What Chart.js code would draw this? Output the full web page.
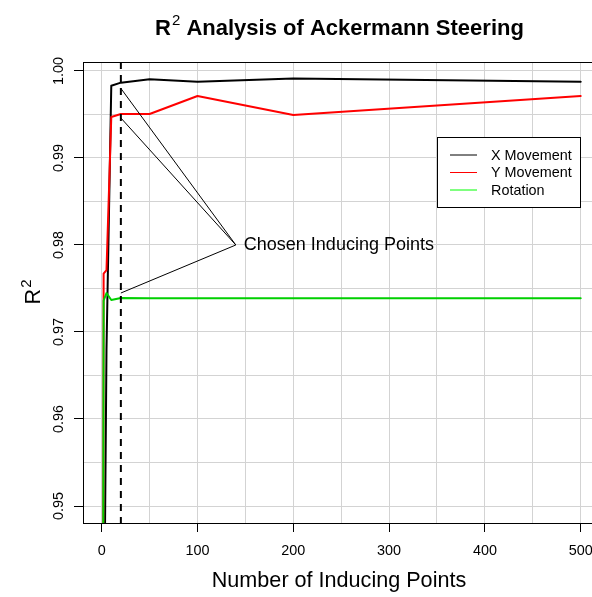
<!DOCTYPE html>
<html><head><meta charset="utf-8">
<script src="https://cdn.jsdelivr.net/npm/chart.js@4"></script>
<style>html,body{margin:0;padding:0;background:#fff}#wrap{width:592px;height:597px}</style>
</head><body><div id="wrap"><canvas id="c" width="592" height="597"></canvas></div>
<script>
// ---- data ----
const inducingPoints = [1, 2, 5, 10, 20, 50, 100, 200, 500];
const xMovement = [0.88, 0.928, 0.968, 0.9983, 0.99866, 0.99905, 0.99877, 0.99914, 0.99877];
const yMovement = [0.90, 0.9767, 0.9771, 0.99471, 0.99506, 0.99506, 0.99713, 0.99494, 0.99713];
const rotation  = [0.90, 0.9736, 0.97448, 0.97368, 0.97391, 0.97387, 0.97387, 0.97387, 0.97387];
const seriesNames = ['X Movement', 'Y Movement', 'Rotation'];
const seriesColors = ['#000000', '#ff0000', '#00d000'];
const legendColors = ['#000000', '#ff0000', '#00ff00'];
const xTickLabels = [0, 100, 200, 300, 400, 500];
const xGridValues = [0, 50, 100, 150, 200, 250, 300, 350, 400, 450, 500];
const yTickLabels = [0.95, 0.96, 0.97, 0.98, 0.99, 1.00];
const yGridValues = [0.95, 0.955, 0.96, 0.965, 0.97, 0.975, 0.98, 0.985, 0.99, 0.995, 1.00];
const chosenPoints = 20;
const annotationAnchor = [140, 0.98];
const annotationTargets = [0.998, 0.9946, 0.97448];
const annotationText = 'Chosen Inducing Points';
const titleText = ['R', '2', ' Analysis of Ackermann Steering'];
const xTitle = 'Number of Inducing Points';
const yTitle = ['R', '2'];

const FONT = "'Liberation Sans', Arial, Helvetica, sans-serif";

function mkDs(label, vals, color, order) {
  return {
    label, order,
    data: inducingPoints.map((x, i) => ({x, y: vals[i]})),
    borderColor: color, borderWidth: 2, pointRadius: 0, fill: false, tension: 0,
    borderJoinStyle: 'round', borderCapStyle: 'round'
  };
}

const isMajorX = v => xTickLabels.includes(v);
const isMajorY = v => yTickLabels.some(t => Math.abs(t - v) < 1e-9);

const drawPlugin = {
  id: 'rdraw',
  afterDatasetsDraw(chart) {
    const {ctx, chartArea: a, scales: {x, y}} = chart;
    ctx.save();
    // top border
    ctx.strokeStyle = '#000'; ctx.lineWidth = 1;
    ctx.beginPath(); ctx.moveTo(a.left, Math.round(a.top) + 0.5); ctx.lineTo(a.right, Math.round(a.top) + 0.5); ctx.stroke();
    // dashed vertical line
    ctx.save();
    ctx.beginPath(); ctx.rect(a.left, a.top, a.right - a.left, a.bottom - a.top); ctx.clip();
    const dx = x.getPixelForValue(chosenPoints);
    ctx.setLineDash([7, 6]); ctx.lineWidth = 2; ctx.strokeStyle = '#000';
    ctx.beginPath(); ctx.moveTo(dx, a.top); ctx.lineTo(dx, a.bottom); ctx.stroke();
    ctx.setLineDash([]);
    // annotation segments
    const ax = x.getPixelForValue(annotationAnchor[0]), ay = y.getPixelForValue(annotationAnchor[1]);
    ctx.lineWidth = 1;
    annotationTargets.forEach(t => {
      ctx.beginPath(); ctx.moveTo(ax, ay); ctx.lineTo(dx, y.getPixelForValue(t)); ctx.stroke();
    });
    ctx.restore();
    ctx.fillStyle = '#000';
    ctx.font = '18px ' + FONT; ctx.textAlign = 'left'; ctx.textBaseline = 'middle';
    ctx.fillText(annotationText, ax + 8, ay);
    // legend
    const lx = 437.5, ly = 137.5, lw = 143, lh = 70;
    ctx.fillStyle = '#fff'; ctx.fillRect(lx, ly, lw, lh);
    ctx.strokeStyle = '#000'; ctx.lineWidth = 1; ctx.strokeRect(lx, ly, lw, lh);
    ctx.font = '14.4px ' + FONT; ctx.textBaseline = 'middle';
    seriesNames.forEach((n, i) => {
      const yy = 155 + i * 17.5;
      ctx.strokeStyle = legendColors[i]; ctx.lineWidth = 1;
      ctx.beginPath(); ctx.moveTo(450, yy); ctx.lineTo(477, yy); ctx.stroke();
      ctx.fillStyle = '#000'; ctx.fillText(n, 491, yy + 1);
    });
    ctx.restore();
  },
  afterDraw(chart) {
    const {ctx, chartArea: a, scales: {x, y}} = chart;
    ctx.save();
    ctx.fillStyle = '#000';
    // x tick labels
    ctx.font = '14.4px ' + FONT; ctx.textAlign = 'center'; ctx.textBaseline = 'alphabetic';
    xTickLabels.forEach(v => ctx.fillText(String(v), x.getPixelForValue(v), 555));
    // y tick labels (rotated)
    yTickLabels.forEach(v => {
      ctx.save();
      ctx.translate(63, y.getPixelForValue(v)); ctx.rotate(-Math.PI / 2);
      ctx.fillText(v.toFixed(2), 0, 0);
      ctx.restore();
    });
    // x title
    ctx.font = '21.6px ' + FONT;
    ctx.fillText(xTitle, 339, 587);
    // y title rotated with superscript
    ctx.save();
    ctx.translate(40, (a.top + a.bottom) / 2); ctx.rotate(-Math.PI / 2);
    ctx.font = '21.6px ' + FONT;
    const wR = ctx.measureText(yTitle[0]).width;
    ctx.font = '15px ' + FONT;
    const w2 = ctx.measureText(yTitle[1]).width;
    const st = -(wR + w2) / 2;
    ctx.textAlign = 'left';
    ctx.font = '21.6px ' + FONT; ctx.fillText(yTitle[0], st, 0);
    ctx.font = '15px ' + FONT; ctx.fillText(yTitle[1], st + wR + 1, -9);
    ctx.restore();
    // main title
    ctx.textAlign = 'left';
    ctx.font = 'bold 22px ' + FONT; const t0 = ctx.measureText(titleText[0]).width, t2 = ctx.measureText(titleText[2]).width;
    ctx.font = '15px ' + FONT; const t1 = ctx.measureText(titleText[1]).width;
    let tx = 339.5 - (t0 + t1 + t2 + 1) / 2;
    ctx.font = 'bold 22px ' + FONT; ctx.fillText(titleText[0], tx, 35);
    ctx.font = '15px ' + FONT; ctx.fillText(titleText[1], tx + t0 + 1, 25);
    ctx.font = 'bold 22px ' + FONT; ctx.fillText(titleText[2], tx + t0 + t1 + 1, 35);
    ctx.restore();
  }
};

new Chart(document.getElementById('c'), {
  type: 'line',
  data: {datasets: [
    mkDs(seriesNames[0], xMovement, seriesColors[0], 3),
    mkDs(seriesNames[1], yMovement, seriesColors[1], 2),
    mkDs(seriesNames[2], rotation, seriesColors[2], 1)
  ]},
  options: {
    responsive: false, animation: false, devicePixelRatio: 1,
    layout: {padding: {top: 62, right: 0, left: 0, bottom: 0}},
    plugins: {legend: {display: false}, title: {display: false}, tooltip: {enabled: false}},
    scales: {
      x: {
        type: 'linear', min: -19.52, max: 511.8,
        afterBuildTicks: s => { s.ticks = xGridValues.map(v => ({value: v})); },
        afterFit: s => { s.height = 74; },
        ticks: {display: false},
        grid: {color: '#d3d3d3', lineWidth: 1, tickLength: 9,
               tickColor: c => (c.tick && isMajorX(c.tick.value)) ? '#000' : 'rgba(0,0,0,0)'},
        border: {color: '#000', width: 1}
      },
      y: {
        type: 'linear', min: 0.948046, max: 1.001034,
        afterBuildTicks: s => { s.ticks = yGridValues.map(v => ({value: v})); },
        afterFit: s => { s.width = 83; },
        ticks: {display: false},
        grid: {color: '#d3d3d3', lineWidth: 1, tickLength: 9,
               tickColor: c => (c.tick && isMajorY(c.tick.value)) ? '#000' : 'rgba(0,0,0,0)'},
        border: {color: '#000', width: 1}
      }
    }
  },
  plugins: [drawPlugin]
});
</script></body></html>
